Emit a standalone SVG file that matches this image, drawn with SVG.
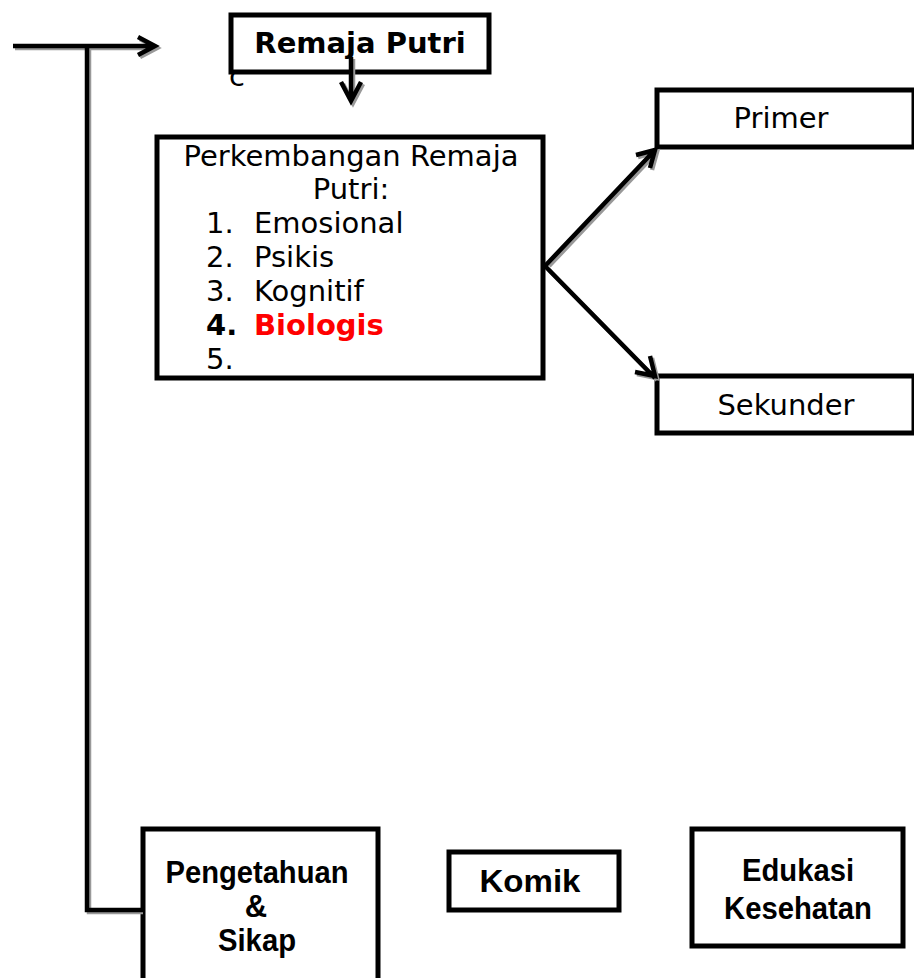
<svg xmlns="http://www.w3.org/2000/svg" width="914" height="978" viewBox="0 0 914 978">
<style>
.box{fill:#fff;stroke:#000;stroke-width:5}
.ln{fill:none;stroke:#000;stroke-width:4.5}
.sh{fill:none;stroke:#999;stroke-width:4.5}
.dj{font-family:"DejaVu Sans",sans-serif;font-size:29px;fill:#000}
.ar{font-family:"Liberation Sans",Arial,sans-serif;font-weight:bold;font-size:31px;fill:#000}
</style>
<g id="remaja-putri">
<rect class="box" x="231" y="15" width="258" height="57"/>
<text class="dj" x="360" y="53" text-anchor="middle" font-weight="bold">Remaja Putri</text>
<text class="dj" x="229" y="86" font-size="19">c</text>
</g>
<g id="perkembangan">
<rect class="box" x="157" y="137" width="386" height="241"/>
<text class="dj" x="351" y="166" text-anchor="middle">Perkembangan Remaja</text>
<text class="dj" x="351" y="199" text-anchor="middle">Putri:</text>
<text class="dj" x="206" y="233">1.</text><text class="dj" x="254" y="233">Emosional</text>
<text class="dj" x="206" y="267">2.</text><text class="dj" x="254" y="267">Psikis</text>
<text class="dj" x="206" y="301">3.</text><text class="dj" x="254" y="301">Kognitif</text>
<text class="dj" x="206" y="335" font-weight="bold">4.</text><text class="dj" x="254" y="335" font-weight="bold" style="fill:#ff0000">Biologis</text>
<text class="dj" x="206" y="369">5.</text>
</g>
<g id="primer">
<rect class="box" x="657" y="90" width="257" height="57"/>
<text class="dj" x="781" y="128" text-anchor="middle">Primer</text>
</g>
<g id="sekunder">
<rect class="box" x="657" y="376" width="257" height="57"/>
<text class="dj" x="786" y="415" text-anchor="middle">Sekunder</text>
</g>
<g id="pengetahuan">
<rect class="box" x="143" y="829" width="235" height="155"/>
<text class="ar" x="257" y="883" text-anchor="middle" textLength="183" lengthAdjust="spacingAndGlyphs">Pengetahuan</text>
<text class="ar" x="256" y="917" text-anchor="middle">&amp;</text>
<text class="ar" x="257" y="951" text-anchor="middle" textLength="78" lengthAdjust="spacingAndGlyphs">Sikap</text>
</g>
<g id="komik">
<rect class="box" x="449" y="852" width="170" height="58"/>
<text class="ar" x="530" y="892" text-anchor="middle" textLength="101" lengthAdjust="spacingAndGlyphs">Komik</text>
</g>
<g id="edukasi">
<rect class="box" x="692" y="829" width="211" height="117"/>
<text class="ar" x="798" y="881" text-anchor="middle" textLength="112" lengthAdjust="spacingAndGlyphs">Edukasi</text>
<text class="ar" x="798" y="919" text-anchor="middle" textLength="148" lengthAdjust="spacingAndGlyphs">Kesehatan</text>
</g>
<g id="connectors">
<g transform="translate(2,2)">
<path class="sh" d="M13 46 H155 M138 37 L155 46 L138 55"/>
<path class="sh" d="M87 46 V910 H141"/>
<path class="sh" d="M351 57 V100 M341 82 L351 101 L361 82"/>
<path class="sh" d="M547 264 L655 150 M636 155 L655 150 L650 168"/>
<path class="sh" d="M547 268 L655 378 M650 356 L655 376 L635 372"/>
</g>
<path class="ln" d="M13 46 H155 M138 37 L155 46 L138 55"/>
<path class="ln" d="M87 46 V910 H143"/>
<path class="ln" d="M351 57 V100 M341 82 L351 101 L361 82"/>
<path class="ln" d="M545 266 L655 150 M636 155 L655 150 L650 168"/>
<path class="ln" d="M545 266 L655 378 M650 356 L655 376 L635 372"/>
</g>
</svg>
